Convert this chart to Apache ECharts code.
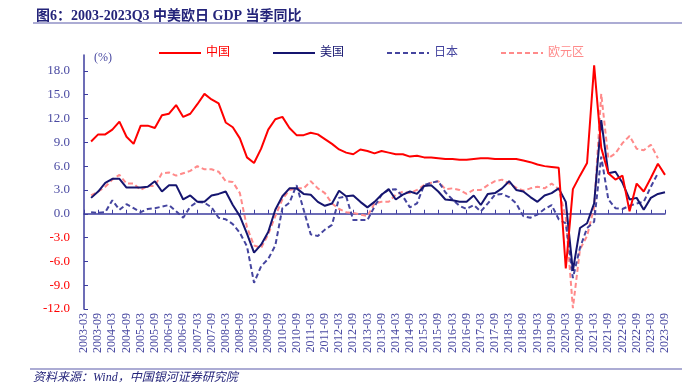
<!DOCTYPE html>
<html><head><meta charset="utf-8">
<script src="https://cdn.jsdelivr.net/npm/echarts@6/dist/echarts.min.js"></script>
<style>html,body{margin:0;padding:0;background:#fff}#c{width:682px;height:389px}</style>
</head><body><div id="c"></div>
<script>
const categories = [
"2003-03","2003-06","2003-09","2003-12",
"2004-03","2004-06","2004-09","2004-12",
"2005-03","2005-06","2005-09","2005-12",
"2006-03","2006-06","2006-09","2006-12",
"2007-03","2007-06","2007-09","2007-12",
"2008-03","2008-06","2008-09","2008-12",
"2009-03","2009-06","2009-09","2009-12",
"2010-03","2010-06","2010-09","2010-12",
"2011-03","2011-06","2011-09","2011-12",
"2012-03","2012-06","2012-09","2012-12",
"2013-03","2013-06","2013-09","2013-12",
"2014-03","2014-06","2014-09","2014-12",
"2015-03","2015-06","2015-09","2015-12",
"2016-03","2016-06","2016-09","2016-12",
"2017-03","2017-06","2017-09","2017-12",
"2018-03","2018-06","2018-09","2018-12",
"2019-03","2019-06","2019-09","2019-12",
"2020-03","2020-06","2020-09","2020-12",
"2021-03","2021-06","2021-09","2021-12",
"2022-03","2022-06","2022-09","2022-12",
"2023-03","2023-06","2023-09"];

const china = [null,9.1,10.0,10.0, 10.6,11.6,9.7,8.8, 11.1,11.1,10.8,12.4, 12.6,13.7,12.2,12.6,
 13.8,15.1,14.4,13.9, 11.5,10.9,9.5,7.1, 6.4,8.2,10.6,11.9, 12.2,10.8,9.9,9.9,
 10.2,10.0,9.4,8.8, 8.1,7.7,7.5,8.1, 7.9,7.6,7.9,7.7, 7.5,7.5,7.2,7.3,
 7.1,7.1,7.0,6.9, 6.9,6.8,6.8,6.9, 7.0,7.0,6.9,6.9, 6.9,6.9,6.7,6.5,
 6.2,6.0,5.9,5.8, -6.9,3.1,4.8,6.4, 18.7,8.3,5.1,4.3, 4.8,0.3,3.8,2.8, 4.5,6.3,4.9];

const usa = [null,2.0,2.8,3.9, 4.4,4.4,3.3,3.3, 3.3,3.4,4.1,2.8, 3.6,3.6,1.8,2.3,
 1.5,1.5,2.3,2.5, 2.8,1.1,-0.3,-2.5, -4.9,-3.9,-2.3,0.5, 2.2,3.2,3.2,2.5,
 2.4,1.5,1.0,1.3, 2.9,2.2,2.3,1.5, 0.8,1.5,2.4,3.1, 1.8,2.4,2.8,2.5,
 3.5,3.6,2.8,1.8, 1.7,1.5,1.5,2.3, 1.1,2.5,2.6,3.2, 4.1,3.0,2.8,2.1,
 1.5,2.3,2.6,3.2, 1.5,-7.2,-1.8,-1.2, 1.3,11.8,5.1,5.3, 3.9,1.8,2.0,0.5, 2.0,2.5,2.7];

const japan = [null,0.2,0.1,0.2, 1.7,0.5,1.2,0.7, 0.2,0.6,0.7,0.9, 1.1,0.3,-0.5,0.9,
 1.5,1.4,0.8,-0.5, -0.7,-1.3,-2.4,-4.1, -8.7,-6.6,-5.7,-4.0, 0.7,1.4,3.6,0.5,
 -2.6,-2.8,-2.0,-1.4, 2.0,2.2,-0.8,-0.8, -0.8,0.9,2.4,3.0, 3.1,2.2,0.8,1.3,
 3.6,3.9,4.1,2.7, 1.8,1.0,0.6,1.1, 0.3,1.3,2.4,2.5, 2.1,1.3,-0.3,-0.5,
 -0.1,0.6,1.1,-0.7, -1.2,-8.1,-4.3,-1.8, -1.0,7.2,1.8,0.7, 0.6,1.0,1.3,1.5, 3.4,5.1,null];

const euro = [null,2.3,2.8,3.4, 4.3,4.9,3.8,3.8, 3.0,3.5,3.5,5.1, 5.2,4.8,5.1,5.4,
 6.0,5.6,5.6,5.3, 4.1,4.0,2.6,-1.7, -4.0,-4.3,-2.6,-0.3, 1.8,3.0,3.2,3.2,
 4.1,3.2,2.6,1.3, 0.6,0.2,0.1,-0.1, -0.3,1.3,1.5,1.5, 2.4,2.8,2.6,3.0,
 3.6,3.9,4.1,3.1, 3.2,3.0,2.5,3.0, 3.0,3.6,4.1,4.3, 3.8,3.3,2.9,3.2,
 3.4,3.2,3.8,3.1, -0.5,-11.9,-4.5,-2.8, 0.8,15.1,7.0,7.6, 8.9,9.8,8.2,8.0, 8.7,7.0,null];

const seriesNames = ["中国","美国","日本","欧元区"];
const yTicks = [-12,-9,-6,-3,0,3,6,9,12,15,18];
const titleText = "图6：2003-2023Q3 中美欧日 GDP 当季同比";
const sourceText = "资料来源：Wind，中国银河证券研究院";
const unitText = "(%)";

const FONT = "'Liberation Serif','Noto Sans CJK SC',serif";
const AXIS = '#3D3D9E';
const LABEL = '#4A4AA2';
const colors = ['#FF0000','#15156F','#45459F','#FF8A8A'];
const styles = [
  {width:2, type:'solid'},
  {width:2, type:'solid'},
  {width:2, type:[5,3]},
  {width:2, type:[5,3]}
];
const dataList = [china, usa, japan, euro];

const chart = echarts.init(document.getElementById('c'), null, {renderer:'canvas'});
chart.setOption({
  animation:false,
  title:{text:titleText, left:31, top:4, textStyle:{fontFamily:FONT, fontSize:14, fontWeight:'bold', color:'#24247A'}},
  legend:{left:153, top:42, itemWidth:42, itemHeight:10, itemGap:42,
    itemStyle:{opacity:0},
    textStyle:{fontFamily:FONT, fontSize:12},
    data: seriesNames.map((n,i)=>({name:n, textStyle:{color:colors[i]}}))},
  grid:{left:84, right:17, top:55, bottom:80},
  xAxis:[
    {type:'category', data:categories, boundaryGap:false,
     axisLine:{onZero:true, lineStyle:{color:AXIS, width:1.5}},
     axisTick:{inside:true, interval:1, length:4, lineStyle:{color:AXIS, width:1}},
     axisLabel:{show:false}, splitLine:{show:false}},
    {type:'category', data:categories, boundaryGap:false, position:'bottom',
     axisLine:{show:false, onZero:false}, axisTick:{show:false}, splitLine:{show:false},
     axisLabel:{interval:1, rotate:90, margin:4, fontFamily:FONT, fontSize:12, color:LABEL}}
  ],
  yAxis:{type:'value', min:-12, max:20, interval:3,
    axisLine:{show:true, lineStyle:{color:AXIS, width:1.5}},
    axisTick:{show:true, inside:true, length:4, customValues:yTicks, lineStyle:{color:AXIS}},
    axisLabel:{customValues:yTicks, margin:14, fontFamily:FONT, fontSize:13,
      formatter:v=>Number(v).toFixed(1),
      color:(v)=> parseFloat(v) < 0 ? '#FF0000' : LABEL},
    splitLine:{show:false}},
  graphic:[
    {type:'line', shape:{x1:33,y1:23,x2:682,y2:23}, style:{stroke:'#9090C6', lineWidth:1.5}},
    {type:'text', left:94, top:52, style:{text:unitText, font:"12px 'Liberation Serif'", fill:LABEL}},
    {type:'line', shape:{x1:30,y1:369,x2:682,y2:369}, style:{stroke:'#9090C6', lineWidth:1.5}},
    {type:'text', left:33, top:372, style:{text:sourceText, font:"italic 12px 'Liberation Serif','Noto Sans CJK SC'", fill:'#24247A'}}
  ],
  series: seriesNames.map((n,i)=>({
    name:n, type:'line', data:dataList[i], xAxisIndex:0, showSymbol:false, symbol:'none',
    connectNulls:false, lineStyle:{color:colors[i], width:styles[i].width, type:styles[i].type},
    itemStyle:{color:colors[i]}, z: 10 - i
  }))
});
</script></body></html>
